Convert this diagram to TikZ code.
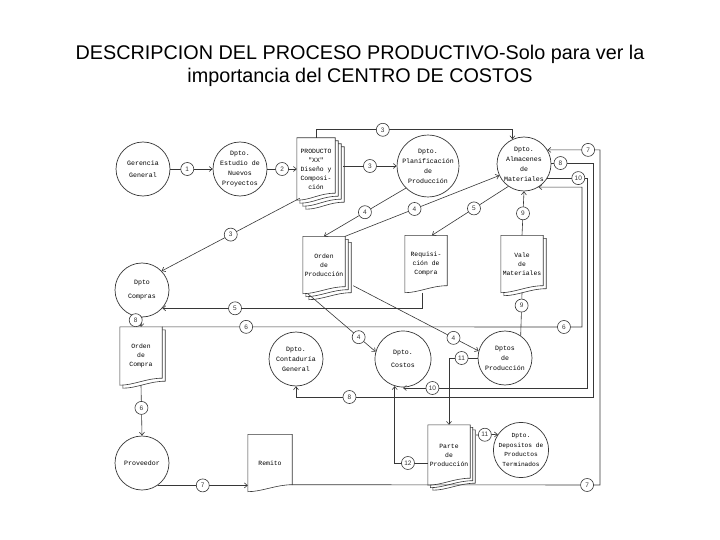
\documentclass[tikz,border=0pt]{standalone}
\usepackage{fontspec}
\setmainfont{Liberation Sans}
\setmonofont{Liberation Mono}
\usetikzlibrary{arrows.meta, positioning, calc, backgrounds}
\definecolor{ink}{RGB}{55,55,55}

% hoja de documento con borde inferior ondulado (#1 nodo, #2 desplazamiento)
\newcommand{\docpage}[2]{%
  \draw[docline]
    ([shift={(#2pt,-#2pt)}]#1.north west) --
    ([shift={(#2pt,-#2pt)}]#1.north east) --
    ([shift={(#2pt,7pt-#2pt)}]#1.south east) .. controls
    ([shift={(#2pt-16pt,7pt-#2pt)}]#1.south east) and
    ([shift={(#2pt+14pt,-#2pt)}]#1.south west) ..
    ([shift={(#2pt,-#2pt)}]#1.south west) -- cycle;}
\newcommand{\docstack}[2]{\foreach \k in {#2}{\docpage{#1}{\k}}}

\begin{document}
\begin{tikzpicture}[x=1pt, y=-1pt,
  dept/.style={circle, draw=ink, line width=0.7pt, minimum size=54pt,
               inner sep=0pt, align=center,
               font=\ttfamily\fontsize{6.6}{10}\selectfont},
  docu/.style={minimum width=42pt, minimum height=57pt, inner sep=0pt,
               align=center, font=\ttfamily\fontsize{6.4}{9}\selectfont},
  docline/.style={draw=ink, fill=white, line width=0.6pt},
  lbl/.style={circle, draw=ink, fill=white, inner sep=0pt,
              minimum size=13pt, font=\fontsize{6.5}{7}\selectfont},
  arr/.style={ink, line width=0.6pt, -{Straight Barb[length=3pt,width=5pt]}},
  lnk/.style={ink, line width=0.6pt}
]
\useasboundingbox (0,0) rectangle (720,540);

%% --- Titulo ---
\node[font=\fontsize{19.8}{23}\selectfont, align=center] (title) at (360,66)
  {DESCRIPCION DEL PROCESO PRODUCTIVO-Solo para ver la\\
   importancia del CENTRO DE COSTOS};

%% --- Departamentos ---
\node[dept] (gg)   at (143,169) {Gerencia\\[2pt]General};
\node[dept] (est)  at (240,169) {Dpto.\\Estudio de\\Nuevos\\Proyectos};
\node[dept] (plan) at (428,166) {Dpto.\\Planificación\\de\\Producción};
\node[dept] (alm)  at (524,164) {Dpto.\\Almacenes\\de\\Materiales};
\node[dept] (cp)   at (142,290) {Dpto\\[4pt]Compras};
\node[dept] (cont) at (296,359) {Dpto.\\Contaduría\\General};
\node[dept, minimum size=56pt] (cos) at (403,359) {Dpto.\\[3pt]Costos};
\node[dept] (dpr)  at (505,358) {Dptos\\de\\Producción};
\node[dept] (prv)  at (142,463) {Proveedor};
\node[dept, minimum size=53pt, font=\ttfamily\fontsize{6.2}{9.5}\selectfont]
            (dep)  at (521,450) {Dpto.\\Depositos de\\Productos\\Terminados};

%% --- Documentos ---
\node[docu, minimum width=38pt, minimum height=62pt] (prod) at (316,169)
  {PRODUCTO\\"XX"\\Diseño y\\Composi-\\ción};
\node[docu] (op)   at (324,265) {Orden\\de\\Producción};
\node[docu] (req)  at (426,264) {Requisi-\\ción de\\Compra};
\node[docu] (vale) at (522,264) {Vale\\de\\Materiales};
\node[docu, minimum height=58pt] (oc) at (141,356) {Orden\\de\\Compra};
\node[docu, minimum width=44pt] (rem) at (270,463) {Remito};
\node[docu, minimum height=60pt] (parte) at (449,455) {Parte\\de\\Producción};

%% --- Puntos de la barra derecha ---
\coordinate (b6)  at (582,327);
\coordinate (b10) at (587,388);
\coordinate (b8)  at (593,397);
\coordinate (b7)  at (600,485);

%% --- Flujos ---
\draw[arr] (gg) -- node[lbl, pos=0.4]{1} (est);
\draw[arr] (est) -- node[lbl]{2} (prod);
\draw[arr] ([xshift=8pt,yshift=3pt]prod.east) -- node[lbl]{3} (plan.west);
\draw[arr] (prod.north) -- ++(0,-8) -| node[lbl, pos=0.17]{3} (alm.115);
\draw[arr] ([xshift=3pt,yshift=2pt]prod.south west) -- node[lbl]{3} (cp.44);
\draw[arr] (plan.225) -- node[lbl]{4} (op.north);
\draw[arr] (op.north east) -- node[lbl, pos=0.45]{4} (alm.205);
\draw[arr] (alm.235) -- node[lbl, pos=0.45]{5} ([xshift=6pt]req.north);
\draw[arr] ([xshift=-4pt]req.south) |- node[lbl, pos=0.86]{5} (cp.-42);
\draw[arr] (vale.north) -- node[lbl]{9} (alm.south);
\draw[lnk] (dpr.55) -- node[lbl, pos=0.7]{9} (vale.south);
\draw[arr] ([xshift=5pt]op.south west) -- node[lbl, pos=0.75]{4} (cos.165);
\draw[arr] ([xshift=8pt,yshift=8pt]op.south east) -- node[lbl, pos=0.8]{4} (dpr.165);
\draw[arr] (cp.south) -- node[lbl, pos=0.3, xshift=-6pt]{8} (oc.north);
\draw[arr] (oc.north east) -- node[lbl, pos=0.2]{6} node[lbl, pos=0.957]{6} (b6)
  |- (alm.-58);
\draw[arr] (oc.south) -- node[lbl, pos=0.45]{6} (prv.north);
\draw[arr] (prv.-55) -- node[lbl]{7} (prv.-55 -| rem.west);
\draw[arr] ([yshift=7pt]rem.south east) -- node[lbl, pos=0.958]{7} (b7)
  |- node[lbl, pos=0.613]{7} (alm.31);
\draw[arr] (alm.2) -| node[lbl, pos=0.11]{8} (b8)
  -| node[lbl, pos=0.41]{8} (cont.south);
\draw[arr] (alm.-31) -| node[lbl, pos=0.39]{10} (b10)
  -- node[lbl, pos=0.84]{10} (b10 -| cos.south);
\draw[arr] (dpr.west) -| node[lbl, pos=0.28]{11} (parte.north);
\draw[arr] ([xshift=6pt,yshift=20pt]parte.east) -- node[lbl, pos=0.4]{11} (dep.146);
\draw[arr] ([yshift=-8pt]parte.west) -| node[lbl, pos=0.3]{12} (cos.253);

%% --- Hojas (fondo) ---
\begin{pgfonlayer}{background}
  \fill[white] (0,0) rectangle (720,540);
  \docstack{prod}{9,6,3,0}
  \docstack{op}{6,3,0}
  \docpage{req}{0}
  \docstack{vale}{3,0}
  \docstack{oc}{3,0}
  \docpage{rem}{0}
  \docstack{parte}{5,2.5,0}
\end{pgfonlayer}

\end{tikzpicture}
\end{document}
